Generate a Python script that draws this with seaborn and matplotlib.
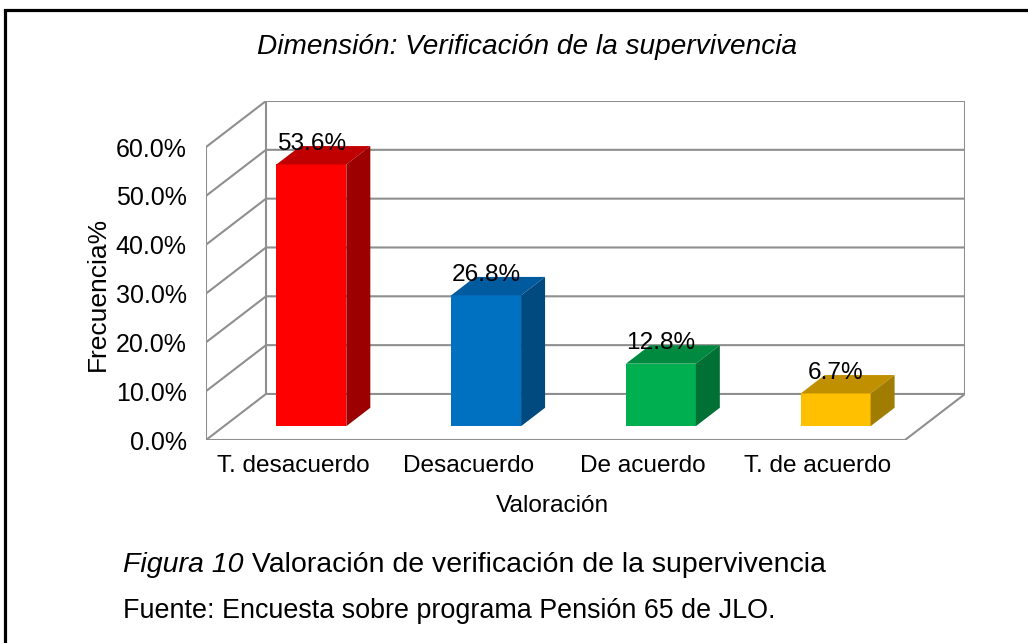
import pandas as pd
import matplotlib
matplotlib.use("Agg")
import matplotlib.pyplot as plt
import seaborn as sns
from matplotlib.patches import Polygon, Rectangle
from matplotlib.transforms import Affine2D

# Datos del gráfico
categorias = ["T. desacuerdo", "Desacuerdo", "De acuerdo", "T. de acuerdo"]
frecuencias = [53.6, 26.8, 12.8, 6.7]
marcas_y = [0, 10, 20, 30, 40, 50, 60]

# Colores: cara frontal, techo y lateral de cada barra
colores_frente = ["#FF0000", "#0070C0", "#00B050", "#FFC000"]
colores_techo = ["#C00000", "#005A9E", "#008A40", "#C09000"]
colores_lado = ["#9C0000", "#004A80", "#007034", "#A07C00"]
gris = "#8F8F8F"

sns.set_theme(style="white")
plt.rcParams["font.family"] = ["Liberation Sans", "DejaVu Sans"]

# Profundidad simulada (en unidades de datos) y posición de las barras en ella
KX, KY = 0.3433, 9.43
Z0, Z1 = 0.3, 0.7
ANCHO = 0.4
FS = 17.6

fig = plt.figure(figsize=(10.28, 6.43), dpi=100)
ax = fig.add_axes([206 / 1028, 203 / 643, 759 / 1028, 339 / 643])

df = pd.DataFrame({"Valoración": categorias, "Frecuencia": frecuencias})
sns.barplot(data=df, x="Valoración", y="Frecuencia", hue="Valoración",
            palette=colores_frente, saturation=1, width=ANCHO, legend=False,
            linewidth=0, zorder=3, ax=ax)

# Las caras frontales se desplazan hacia el fondo
desplaza = Affine2D().translate(KX * Z0, KY * Z0) + ax.transData
for p in ax.patches:
    p.set_transform(desplaza)

# Paredes y líneas de división
for v in marcas_y:
    ax.plot([-0.5, -0.5 + KX, 3.5 + KX], [v, v + KY, v + KY], color=gris, lw=1.5, zorder=1)
ax.plot([-0.5, -0.5], [0, 60], color=gris, lw=1.5, zorder=1)
ax.plot([-0.5 + KX] * 2, [KY, 60 + KY], color=gris, lw=1.5, zorder=1)
ax.plot([3.5 + KX] * 2, [KY, 60 + KY], color=gris, lw=1.5, zorder=1)
ax.plot([-0.5, 3.5, 3.5 + KX], [0, 0, KY], color=gris, lw=1.5, zorder=1)

# Techo, lateral y etiqueta de cada barra
for i, v in enumerate(frecuencias):
    x0 = i - ANCHO / 2
    x1 = i + ANCHO / 2
    techo = [(x0 + KX * Z0, v + KY * Z0), (x1 + KX * Z0, v + KY * Z0),
             (x1 + KX * Z1, v + KY * Z1), (x0 + KX * Z1, v + KY * Z1)]
    lado = [(x1 + KX * Z0, KY * Z0), (x1 + KX * Z1, KY * Z1),
            (x1 + KX * Z1, v + KY * Z1), (x1 + KX * Z0, v + KY * Z0)]
    ax.add_patch(Polygon(techo, closed=True, fc=colores_techo[i], lw=0, zorder=3))
    ax.add_patch(Polygon(lado, closed=True, fc=colores_lado[i], lw=0, zorder=3))
    ax.text(i + KX * Z0, v + KY * Z1 + 0.4, f"{v:.1f}%", ha="center", va="center",
            fontsize=FS, color="black", zorder=4)

ax.set_xlim(-0.5, 3.5 + KX)
ax.set_ylim(0, 60 + KY)
ax.set_yticks(marcas_y)
ax.set_yticklabels([f"{v:.1f}%" for v in marcas_y])
ax.tick_params(axis="y", length=0, pad=14, labelsize=18, labelcolor="black")
ax.tick_params(axis="x", length=0, pad=11, labelsize=FS, labelcolor="black")
for s in ax.spines.values():
    s.set_visible(False)

ax.set_xlabel("Valoración", fontsize=FS, color="black")
ax.xaxis.set_label_coords(0.457, -0.195)
ax.xaxis.label.set_va("center")
ax.set_ylabel("Frecuencia%", fontsize=19, color="black")
ax.yaxis.set_label_coords(-0.143, 0.431)
ax.yaxis.label.set_va("center")

fig.text(527 / 1028, 1 - 47 / 643, "Dimensión: Verificación de la supervivencia",
         ha="center", va="center", fontsize=20.2, style="italic", color="black")

t1 = fig.text(123 / 1028, 1 - 565 / 643, "Figura 10", ha="left", va="center",
              fontsize=20.5, style="italic", color="black")
ax.annotate(" Valoración de verificación de la supervivencia", xy=(1, 0.5),
            xycoords=t1, ha="left", va="center", fontsize=20.5, color="black",
            annotation_clip=False)
fig.text(123 / 1028, 1 - 611 / 643, "Fuente: Encuesta sobre programa Pensión 65 de JLO.",
         ha="left", va="center", fontsize=19.4, color="black")

# Marco exterior
fig.add_artist(Rectangle((4.5 / 1028, -0.1), 1.1, 1.1 - 10 / 643, transform=fig.transFigure,
                         fill=False, ec="black", lw=2.3))

fig.savefig("out.png", dpi=100, facecolor="white")
